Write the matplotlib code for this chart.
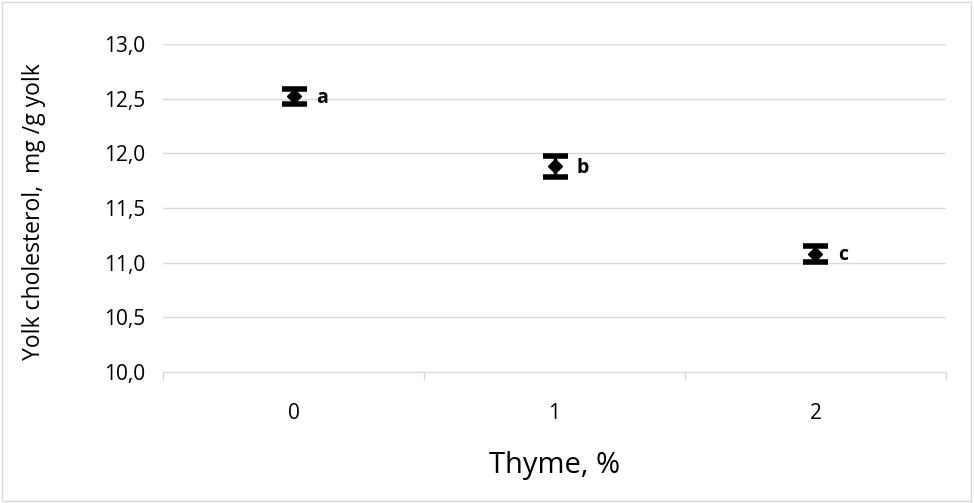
import matplotlib.pyplot as plt
from matplotlib.ticker import FuncFormatter, FixedLocator
from matplotlib.patches import Rectangle

plt.rcParams['font.family'] = ['Open Sans', 'DejaVu Sans']

# data
thyme = ["0", "1", "2"]
cholesterol = [12.52, 11.88, 11.08]
err = [0.07, 0.10, 0.07]
letters = ["a", "b", "c"]

fig = plt.figure(figsize=(9.74, 5.03), dpi=100)
ax = fig.add_axes([163 / 974, 1 - 372 / 503, (946 - 163) / 974, (372 - 44) / 503])

x = list(range(len(thyme)))
ax.errorbar(x, cholesterol, yerr=err, fmt="D", color="black", markersize=7,
            ecolor="black", elinewidth=2.5, capsize=9, capthick=4, zorder=3)

for i, (v, lab) in enumerate(zip(cholesterol, letters)):
    ax.annotate(lab, xy=(i, v), xytext=(16, -1), textcoords="offset points",
                ha="left", va="center", fontsize=14, fontweight="bold")

ax.set_ylim(10.0, 13.0)
ax.set_yticks([10.0, 10.5, 11.0, 11.5, 12.0, 12.5, 13.0])
ax.yaxis.set_major_formatter(FuncFormatter(lambda v, p: f"{v:.1f}".replace(".", ",")))
ax.set_xlim(-0.5, 2.5)
ax.set_xticks(x)
ax.set_xticklabels(thyme)
ax.xaxis.set_minor_locator(FixedLocator([-0.5, 0.5, 1.5, 2.5]))
ax.tick_params(axis="x", which="major", length=0, pad=22, labelsize=15)
ax.tick_params(axis="x", which="minor", length=6, color="#d9d9d9", width=1)
ax.tick_params(axis="y", length=0, pad=13, labelsize=15)

ax.grid(axis="y", color="#d9d9d9", linewidth=1)
ax.set_axisbelow(True)
for s in ["top", "right", "left"]:
    ax.spines[s].set_visible(False)
ax.spines["bottom"].set_color("#d9d9d9")

ax.set_xlabel("Thyme, %", fontsize=21, labelpad=20)
ax.set_ylabel("Yolk cholesterol,  mg /g yolk", fontsize=16.5)
ax.yaxis.set_label_coords(-0.15, 0.49)

# outer frame
fig.patches.append(Rectangle((0.002, 0.003), 0.995, 0.993, transform=fig.transFigure,
                             fill=False, edgecolor="#d9d9d9", linewidth=1))

plt.savefig("out.png", dpi=100)
